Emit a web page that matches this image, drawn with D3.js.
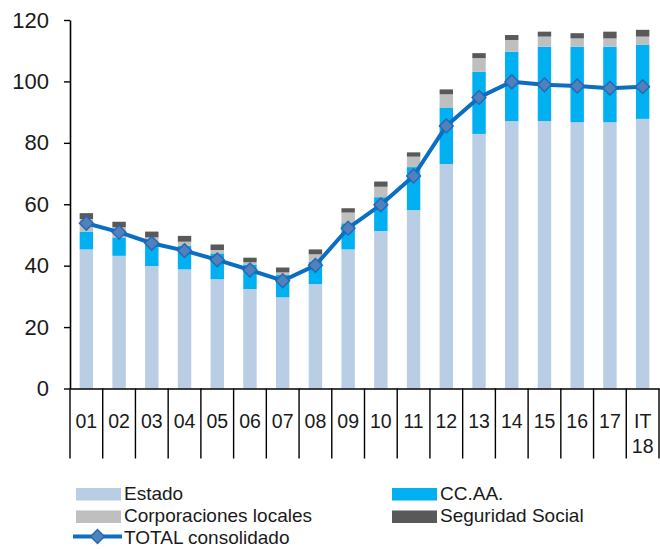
<!DOCTYPE html>
<html>
<head>
<meta charset="utf-8">
<script src="https://cdn.jsdelivr.net/npm/d3@7"></script>
<style>
  body { margin: 0; background: #fff; }
  svg { display: block; font-family: "Liberation Sans", Arial, sans-serif; }
</style>
</head>
<body>
<svg id="chart" width="660" height="549"></svg>
<script>
// categories (years; last one is first quarter 2018)
const categories = ["01", "02", "03", "04", "05", "06", "07", "08", "09", "10",
  "11", "12", "13", "14", "15", "16", "17", "IT 18"];

// stacked series (% of GDP)
const estado = [45.3, 43.2, 39.9, 38.8, 35.6, 32.4, 29.7, 34.0, 45.3, 51.3,
  58.1, 73.1, 82.9, 87.1, 87.1, 86.7, 86.7, 87.8];
const ccaa = [5.8, 6.0, 7.1, 7.7, 8.4, 8.0, 7.3, 7.3, 8.5, 11.0,
  14.0, 18.4, 20.3, 22.6, 24.2, 24.6, 24.6, 24.1];
const corporaciones = [4.1, 3.3, 2.2, 1.3, 1.1, 0.7, 0.8, 2.4, 3.5, 3.4,
  3.4, 4.3, 4.4, 3.8, 3.3, 2.7, 2.7, 2.7];
const seguridadSocial = [1.9, 1.8, 1.9, 1.9, 1.8, 1.5, 1.6, 1.6, 1.4, 1.7,
  1.4, 1.6, 1.6, 1.6, 1.6, 1.7, 2.2, 2.2];

// consolidated total line
const total = [53.8, 50.9, 47.3, 44.9, 41.9, 38.6, 35.1, 40.1, 52.2, 59.8,
  69.2, 85.5, 94.8, 99.9, 98.9, 98.5, 97.8, 98.3];

const yTicks = [0, 20, 40, 60, 80, 100, 120];

const seriesKeys = ["estado", "ccaa", "corporaciones", "seguridadSocial"];
const seriesNames = {
  estado: "Estado",
  ccaa: "CC.AA.",
  corporaciones: "Corporaciones locales",
  seguridadSocial: "Seguridad Social"
};
const colors = {
  estado: "#B9CDE5",
  ccaa: "#00B0F0",
  corporaciones: "#BFBFBF",
  seguridadSocial: "#595959"
};
const lineColor = "#0A6FC2";
const diamondFill = "#4F81BD";
const diamondStroke = "#2867B2";
const textColor = "#1a1a1a";

const svg = d3.select("#chart");

const plotLeft = 70, plotRight = 659, plotTop = 20, plotBottom = 388.5;

const x = d3.scaleBand()
  .domain(categories)
  .range([plotLeft, plotRight])
  .paddingInner(0)
  .paddingOuter(0);

const y = d3.scaleLinear()
  .domain([0, 120])
  .range([plotBottom, plotTop]);

const barWidth = x.bandwidth() * 0.41;

// build table for the stack
const table = categories.map((c, i) => ({
  cat: c,
  estado: estado[i],
  ccaa: ccaa[i],
  corporaciones: corporaciones[i],
  seguridadSocial: seguridadSocial[i]
}));

const stacked = d3.stack().keys(seriesKeys)(table);

// bars
svg.append("g")
  .selectAll("g")
  .data(stacked)
  .join("g")
    .attr("fill", d => colors[d.key])
  .selectAll("rect")
  .data(d => d)
  .join("rect")
    .attr("x", d => x(d.data.cat) + x.bandwidth() / 2 - barWidth / 2)
    .attr("y", d => y(d[1]))
    .attr("width", barWidth)
    .attr("height", d => y(d[0]) - y(d[1]));

// y axis
const yAxis = svg.append("g")
  .attr("transform", `translate(${plotLeft},0)`)
  .call(d3.axisLeft(y)
    .tickValues(yTicks)
    .tickSize(6)
    .tickSizeOuter(0)
    .tickPadding(15));
yAxis.select(".domain").attr("stroke", "#000").attr("stroke-width", 1.6);
yAxis.selectAll(".tick line").attr("stroke", "#000").attr("stroke-width", 1.4);
yAxis.selectAll(".tick text")
  .attr("fill", textColor)
  .style("font-size", "22px")
  .style("font-family", "'Liberation Sans', Arial, sans-serif");

// x axis: labels centred in bands
const xAxis = svg.append("g")
  .attr("transform", `translate(0,${plotBottom})`)
  .call(d3.axisBottom(x).tickSize(0).tickSizeOuter(0).tickPadding(0));
xAxis.select(".domain").attr("stroke", "#000").attr("stroke-width", 1.6);
xAxis.selectAll(".tick text")
  .attr("fill", textColor)
  .attr("dy", null)
  .attr("y", null)
  .style("font-size", "19.5px")
  .style("font-family", "'Liberation Sans', Arial, sans-serif")
  .each(function(d) {
    const parts = d.split(" ");
    const t = d3.select(this).text(null);
    parts.forEach((p, i) => {
      t.append("tspan")
        .attr("x", 0)
        .attr("y", 39 + i * 25.5)
        .text(p);
    });
  });

// long separators between categories
const boundaries = categories.map(c => x(c)).concat([x.range()[1]]);
svg.append("g")
  .selectAll("line")
  .data(boundaries)
  .join("line")
    .attr("x1", d => d)
    .attr("x2", d => d)
    .attr("y1", plotBottom)
    .attr("y2", 458.5)
    .attr("stroke", "#000")
    .attr("stroke-width", 1.4);

// total line
const cx = (d, i) => x(categories[i]) + x.bandwidth() / 2;
const line = d3.line()
  .x((d, i) => cx(d, i))
  .y(d => y(d));

svg.append("path")
  .datum(total)
  .attr("fill", "none")
  .attr("stroke", lineColor)
  .attr("stroke-width", 4)
  .attr("stroke-linejoin", "round")
  .attr("d", line);

const diamond = d3.symbol().type(d3.symbolSquare).size(96);

svg.append("g")
  .selectAll("path")
  .data(total)
  .join("path")
    .attr("d", diamond)
    .attr("transform", (d, i) => `translate(${cx(d, i)},${y(d)}) rotate(45)`)
    .attr("fill", diamondFill)
    .attr("stroke", diamondStroke)
    .attr("stroke-width", 1.4);

// legend
const legendItems = [
  { key: "estado", x: 76, y: 488 },
  { key: "ccaa", x: 392, y: 488 },
  { key: "corporaciones", x: 76, y: 510.5 },
  { key: "seguridadSocial", x: 392, y: 510.5 }
];

const legend = svg.append("g")
  .style("font-size", "19px")
  .attr("fill", textColor);

legendItems.forEach(item => {
  legend.append("rect")
    .attr("x", item.x)
    .attr("y", item.y)
    .attr("width", 45)
    .attr("height", 12.5)
    .attr("fill", colors[item.key]);
  legend.append("text")
    .attr("x", item.x + 48)
    .attr("y", item.y + 11.5)
    .text(seriesNames[item.key]);
});

legend.append("line")
  .attr("x1", 73).attr("x2", 122)
  .attr("y1", 536.5).attr("y2", 536.5)
  .attr("stroke", lineColor)
  .attr("stroke-width", 4);
legend.append("path")
  .attr("d", diamond)
  .attr("transform", "translate(97.5,536.5) rotate(45)")
  .attr("fill", diamondFill)
  .attr("stroke", diamondStroke)
  .attr("stroke-width", 1.4);
legend.append("text")
  .attr("x", 124)
  .attr("y", 544)
  .text("TOTAL consolidado");
</script>
</body>
</html>
